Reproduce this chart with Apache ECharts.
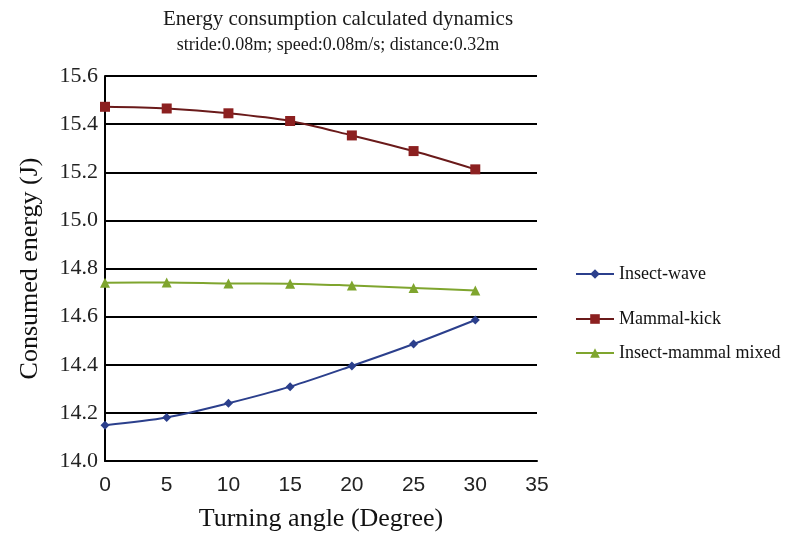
<!DOCTYPE html>
<html>
<head>
<meta charset="utf-8">
<script src="https://cdn.jsdelivr.net/npm/echarts@6/dist/echarts.min.js"></script>
<style>html,body{margin:0;padding:0;background:#fff}#c{width:787px;height:535px}</style>
</head>
<body>
<div id="c"></div>
<script>
var angles = [0, 5, 10, 15, 20, 25, 30];
var insectWave = [14.149, 14.181, 14.240, 14.309, 14.395, 14.486, 14.586];
var mammalKick = [15.472, 15.465, 15.445, 15.413, 15.353, 15.288, 15.212];
var mixed = [14.741, 14.742, 14.738, 14.737, 14.729, 14.719, 14.709];
var seriesNames = ['Insect-wave', 'Mammal-kick', 'Insect-mammal mixed'];
var titleText = 'Energy consumption calculated dynamics';
var subText = 'stride:0.08m; speed:0.08m/s; distance:0.32m';

function pairs(v) { return angles.map(function (a, i) { return [a, v[i]]; }); }

var serif = 'Liberation Serif, Times New Roman, serif';
var chart = echarts.init(document.getElementById('c'));
var legendBase = {
  orient: 'vertical', left: 570, itemWidth: 38, itemHeight: 12, itemGap: 4,
  textStyle: { fontFamily: serif, fontSize: 18, color: '#111' }
};
chart.setOption({
  animation: false,
  title: {
    text: titleText, subtext: subText, left: 333, textAlign: 'center', top: 4, itemGap: 6,
    textStyle: { fontFamily: serif, fontSize: 21, fontWeight: 'normal', color: '#1a1a1a' },
    subtextStyle: { fontFamily: serif, fontSize: 18, color: '#1a1a1a' }
  },
  legend: [
    Object.assign({ top: 260, data: [seriesNames[0]] }, legendBase),
    Object.assign({ top: 305, data: [seriesNames[1]] }, legendBase),
    Object.assign({ top: 339, data: [seriesNames[2]] }, legendBase)
  ],
  grid: { left: 105, right: 250, top: 76, bottom: 74, containLabel: false, outerBoundsMode: 'none' },
  xAxis: {
    type: 'value', min: 0, max: 35, interval: 5,
    name: 'Turning angle (Degree)', nameLocation: 'middle', nameGap: 45,
    nameTextStyle: { fontFamily: serif, fontSize: 26, color: '#111' },
    axisLine: { show: true, lineStyle: { color: '#000', width: 2 } },
    axisTick: { show: false },
    splitLine: { show: false },
    axisLabel: { fontFamily: 'Liberation Sans, sans-serif', fontSize: 21, color: '#222', margin: 14 }
  },
  yAxis: {
    type: 'value', min: 14.0, max: 15.6, interval: 0.2,
    name: 'Consumed energy (J)', nameLocation: 'middle', nameGap: 62,
    nameTextStyle: { fontFamily: serif, fontSize: 26, color: '#111' },
    axisLine: { show: true, lineStyle: { color: '#000', width: 2 } },
    axisTick: { show: false },
    splitLine: { show: true, lineStyle: { color: '#000', width: 2 } },
    axisLabel: { fontFamily: serif, fontSize: 22, color: '#222', margin: 7,
      formatter: function (v) { return v.toFixed(1); } }
  },
  series: [
    { name: seriesNames[0], type: 'line', data: pairs(insectWave), smooth: 0.3,
      symbol: 'diamond', symbolSize: 9, color: '#2b3f8c', lineStyle: { width: 2, color: '#2b3f8c' } },
    { name: seriesNames[1], type: 'line', data: pairs(mammalKick), smooth: 0.3,
      symbol: 'rect', symbolSize: 10, color: '#8c2020', lineStyle: { width: 2, color: '#6a1a1a' } },
    { name: seriesNames[2], type: 'line', data: pairs(mixed), smooth: 0.3,
      symbol: 'triangle', symbolSize: 10, color: '#7fa52e', lineStyle: { width: 2, color: '#7fa52e' } }
  ]
});
</script>
</body>
</html>
